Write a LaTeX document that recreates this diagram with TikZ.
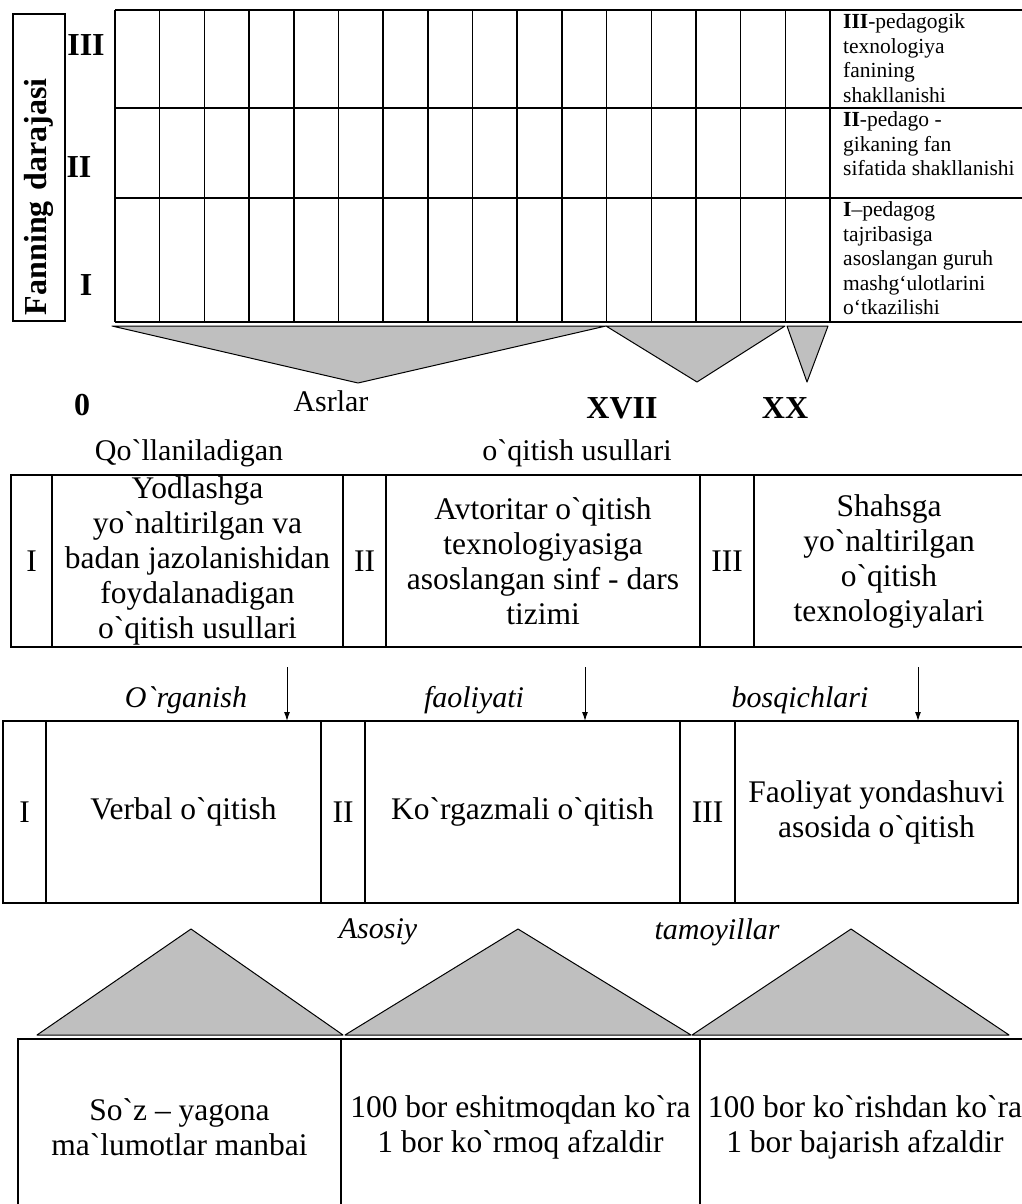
\documentclass[tikz,border=0pt]{standalone}
\usepackage{fontspec}
\newfontfamily\timesfont{Liberation Serif}
\usepackage{tikz}
\usetikzlibrary{arrows.meta, positioning}

\begin{document}
\begin{tikzpicture}[
    x=1pt, y=-1pt,
    cell/.style={draw, line width=1.2pt, outer sep=0pt, inner sep=0pt, align=center, font=\timesfont\fontsize{31.5}{35}\selectfont},
    label/.style={inner sep=0pt, font=\timesfont\fontsize{30}{35}\selectfont},
    boldlabel/.style={inner sep=0pt, font=\timesfont\bfseries\fontsize{32}{35}\selectfont},
    itlabel/.style={inner sep=0pt, font=\timesfont\itshape\fontsize{30}{35}\selectfont},
    note/.style={inner sep=0pt, anchor=north west, align=left, font=\timesfont\fontsize{21.5}{24.5}\selectfont},
    gridline/.style={line width=1.5pt},
    tri/.style={draw, fill=gray!50, line width=1pt, line join=round},
    arrow/.style={-{Latex[length=9pt, width=6pt]}, line width=1pt}
]
    \useasboundingbox (0,0) rectangle (1022,1204);

    % Fan darajasi
    \node[draw, line width=1.2pt, rotate=90, text width=295pt, inner xsep=6pt, inner ysep=0pt, minimum height=52pt,
          align=left, font=\timesfont\bfseries\fontsize{32}{35}\selectfont] (daraja) at (39,167.5) {Fanning darajasi};
    \node[boldlabel] (lev3) at (86,45) {III};
    \node[boldlabel] (lev2) at (79,167) {II};
    \node[boldlabel] (lev1) at (86,285) {I};

    % Grid
    \foreach \i in {0,...,16}
        \draw[gridline] ({115+44.6875*\i},10) -- ({115+44.6875*\i},322);
    \foreach \y in {10,108,198,322}
        \draw[gridline] (115,\y) -- (1022,\y);

    % Bosqichlar
    \node[note] (bosqich3) at (843,13.5) {{\bfseries III}-pedagogik\\texnologiya\\fanining\\shakllanishi};
    \node[note] (bosqich2) at (843,111.5) {{\bfseries II}-pedago -\\gikaning fan\\sifatida shakllanishi};
    \node[note] (bosqich1) at (843,201.5) {{\bfseries I}–pedagog\\tajribasiga\\asoslangan guruh\\mashg‘ulotlarini\\o‘tkazilishi};

    % Asrlar
    \draw[tri] (112,326) -- (606,326) -- (358,383) -- cycle;
    \draw[tri] (606,326) -- (785,326) -- (697,382) -- cycle;
    \draw[tri] (787,326) -- (828,326) -- (807,382) -- cycle;
    \node[boldlabel] (asr0) at (82,405) {0};
    \node[label] (asrlar) at (331,401) {Asrlar};
    \node[boldlabel] (asr17) at (622,408) {XVII};
    \node[boldlabel] (asr20) at (785,408) {XX};

    % O`qitish usullari
    \node[label] (usulsarlavha1) at (189,453) {Qo`llaniladigan};
    \node[label] (usulsarlavha2) at (577,453) {o`qitish usullari};
    \node[cell, minimum width=41pt, minimum height=172pt, anchor=north west] (usul1n) at (11,475) {I};
    \node[cell, minimum width=291pt, minimum height=172pt, right=0pt of usul1n] (usul1)
        {Yodlashga\\yo`naltirilgan va\\badan jazolanishidan\\foydalanadigan\\o`qitish usullari};
    \node[cell, minimum width=43pt, minimum height=172pt, right=0pt of usul1] (usul2n) {II};
    \node[cell, minimum width=314pt, minimum height=172pt, right=0pt of usul2n] (usul2)
        {Avtoritar o`qitish\\texnologiyasiga\\asoslangan sinf - dars\\tizimi};
    \node[cell, minimum width=54pt, minimum height=172pt, right=0pt of usul2] (usul3n) {III};
    \node[cell, minimum width=270pt, minimum height=172pt, right=0pt of usul3n] (usul3)
        {Shahsga\\yo`naltirilgan\\o`qitish\\texnologiyalari};

    % O`rganish faoliyati bosqichlari
    \node[itlabel] (faol1) at (186,700) {O`rganish};
    \node[itlabel] (faol2) at (474,700) {faoliyati};
    \node[itlabel] (faol3) at (800,700) {bosqichlari};
    \node[cell, minimum width=43pt, minimum height=182pt, anchor=north west] (faoliyat1n) at (3,721) {I};
    \node[cell, minimum width=275pt, minimum height=182pt, right=0pt of faoliyat1n] (faoliyat1) {Verbal o`qitish};
    \node[cell, minimum width=44pt, minimum height=182pt, right=0pt of faoliyat1] (faoliyat2n) {II};
    \node[cell, minimum width=315pt, minimum height=182pt, right=0pt of faoliyat2n] (faoliyat2) {Ko`rgazmali o`qitish};
    \node[cell, minimum width=55pt, minimum height=182pt, right=0pt of faoliyat2] (faoliyat3n) {III};
    \node[cell, minimum width=283pt, minimum height=182pt, right=0pt of faoliyat3n] (faoliyat3)
        {Faoliyat yondashuvi\\asosida o`qitish};

    % Arrows
    \coordinate (strelka1) at (287,667);
    \coordinate (strelka2) at (585,667);
    \coordinate (strelka3) at (918,667);
    \draw[arrow] (strelka1) -- (strelka1 |- faoliyat1.north);
    \draw[arrow] (strelka2) -- (strelka2 |- faoliyat2.north);
    \draw[arrow] (strelka3) -- (strelka3 |- faoliyat3.north);

    % Asosiy tamoyillar
    \node[itlabel] (tamoyil1) at (378,932) {Asosiy};
    \node[itlabel] (tamoyil2) at (717,932) {tamoyillar};
    \draw[tri] (37,1035) -- (343,1035) -- (191,929) -- cycle;
    \draw[tri] (345,1035) -- (691,1035) -- (518,929) -- cycle;
    \draw[tri] (692,1035) -- (1009,1035) -- (851,929) -- cycle;
    \node[cell, minimum width=323pt, minimum height=176pt, anchor=north west] (tamoyilq1) at (18,1039)
        {So`z – yagona\\ma`lumotlar manbai};
    \node[cell, minimum width=359pt, minimum height=176pt, right=0pt of tamoyilq1] (tamoyilq2)
        {100 bor eshitmoqdan ko`ra\\1 bor ko`rmoq afzaldir};
    \node[cell, minimum width=330pt, minimum height=176pt, right=0pt of tamoyilq2] (tamoyilq3)
        {100 bor ko`rishdan ko`ra\\1 bor bajarish afzaldir};

\end{tikzpicture}
\end{document}
